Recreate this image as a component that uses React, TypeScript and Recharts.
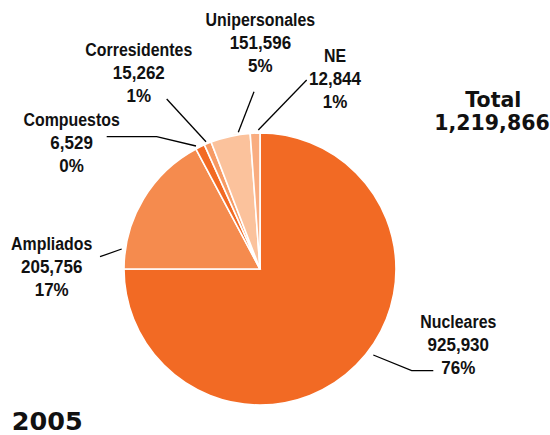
import React from "react";
import { PieChart, Pie, Cell } from "recharts";

// ---- data ----
const categories = ["Nucleares", "Ampliados", "Compuestos", "Corresidentes", "Unipersonales", "NE"];
const householdCounts = ["925,930", "205,756", "6,529", "15,262", "151,596", "12,844"];
const percentLabels = ["76%", "17%", "0%", "1%", "5%", "1%"];
// slice sizes as drawn in the reference (percent of the circle)
const drawnShares = [75.0, 17.2, 1.1, 0.85, 4.7, 1.15];
const totalLabel = "Total";
const totalValue = "1,219,866";
const yearLabel = "2005";

// ---- styles / layout ----
const COLORS = ["#F26A24", "#F58B4E", "#F26A24", "#F79A63", "#FBC29C", "#F9AD80"];
const CX = 260;
const CY = 269;
const R = 136;
const LABEL_FONT = "'Liberation Sans', Arial, sans-serif";
const LABEL_SIZE = 18.5;
const LINE_SCALE_X = [0.86, 0.92, 0.92];
const BIG_FONT = "'DejaVu Sans', sans-serif";
// label text anchor (center x, first baseline) relative to pie centre
const labelPos: [number, number][] = [
  [198.3, 59.3],
  [-208.3, -19],
  [-188.4, -143],
  [-121.2, -213],
  [0.4, -243.5],
  [75, -207],
];
// leader line points relative to pie centre
const leaderPts: [number, number][][] = [
  [[113.3, 86], [151.7, 101.7], [173.3, 101.7]],
  [[-138.3, -20], [-160, -12.3]],
  [[-64, -123], [-103.3, -132.3], [-153.3, -132.3]],
  [[-54, -127.3], [-93.3, -170]],
  [[-21.7, -136.7], [-6, -177.3]],
  [[-1.7, -139], [46.7, -189]],
];
const LINE_H = 23;

const data = categories.map((name, i) => ({
  name,
  share: drawnShares[i],
  count: householdCounts[i],
  pct: percentLabels[i],
}));

const renderLabel = (props: any) => {
  const { cx, cy, index } = props;
  const [lx, ly] = labelPos[index];
  const pts = leaderPts[index].map(([x, y]) => `${cx + x},${cy + y}`).join(" ");
  const lines = [categories[index], householdCounts[index], percentLabels[index]];
  return (
    <g key={`lab-${index}`}>
      <polyline points={pts} fill="none" stroke="#000" strokeWidth={1.3} />
      {lines.map((t, k) => (
        <text
          key={k}
          x={0}
          y={0}
          transform={`translate(${cx + lx},${cy + ly + k * LINE_H}) scale(${LINE_SCALE_X[k]},1)`}
          textAnchor="middle"
          fontFamily={LABEL_FONT}
          fontWeight="bold"
          fontSize={LABEL_SIZE}
          fill="#111"
        >
          {t}
        </text>
      ))}
    </g>
  );
};

export default function App() {
  return (
    <div style={{ position: "absolute", left: 0, top: 0, width: 550, height: 435, background: "#fff" }}>
      <PieChart width={550} height={435} margin={{ top: 0, right: 0, bottom: 0, left: 0 }}>
        <Pie
          data={data}
          dataKey="share"
          nameKey="name"
          cx={CX}
          cy={CY}
          outerRadius={R}
          innerRadius={0}
          startAngle={90}
          endAngle={-270}
          stroke="#fff"
          strokeWidth={1.6}
          label={renderLabel}
          labelLine={false}
          isAnimationActive={false}
        >
          {data.map((d, i) => (
            <Cell key={d.name} fill={COLORS[i]} />
          ))}
        </Pie>
      </PieChart>
      <svg width={550} height={435} style={{ position: "absolute", left: 0, top: 0, pointerEvents: "none" }}>
        <text x={493.3} y={107.3} textAnchor="middle" fontFamily={BIG_FONT} fontWeight="bold" fontSize={20.5} fill="#111">
          {totalLabel}
        </text>
        <text x={492} y={129.5} textAnchor="middle" fontFamily={BIG_FONT} fontWeight="bold" fontSize={20.5} fill="#111">
          {totalValue}
        </text>
        <text x={11.7} y={430} textAnchor="start" fontFamily={BIG_FONT} fontWeight="bold" fontSize={25.5} fill="#111">
          {yearLabel}
        </text>
      </svg>
    </div>
  );
}
